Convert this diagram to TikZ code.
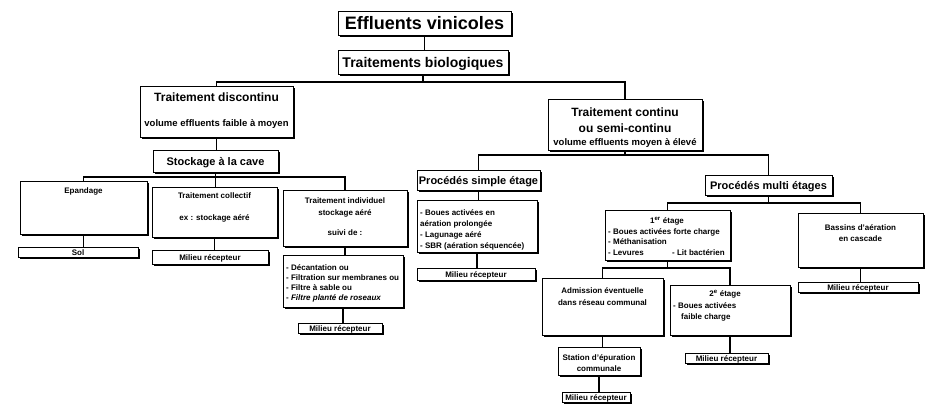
\documentclass[tikz,border=0pt]{standalone}
\usepackage{fontspec}
\setmainfont{Liberation Sans}
\usetikzlibrary{shadows}
\tikzset{
  boxst/.style={draw, line width=0.9pt, fill=white, inner sep=0pt, outer sep=0pt,
    drop shadow={shadow xshift=1.8pt, shadow yshift=-1.8pt, opacity=1, fill=black}},
  conn/.style={line width=1.2pt},
  txt/.style={inner sep=0pt, anchor=base},
  tA/.style={txt, font=\bfseries\fontsize{18}{20}\selectfont},
  tB/.style={txt, font=\bfseries\fontsize{14}{16}\selectfont},
  tC/.style={txt, font=\bfseries\fontsize{12}{14}\selectfont},
  tD/.style={txt, font=\bfseries\fontsize{11}{13}\selectfont},
  tE/.style={txt, font=\bfseries\fontsize{9.5}{11}\selectfont},
  tS/.style={txt, font=\bfseries\fontsize{8}{10}\selectfont},
  tL/.style={tS, anchor=base west},
}
\newcommand\mkbox[5]{%
  \pgfmathsetmacro\mbW{#4-#2}\pgfmathsetmacro\mbH{#5-#3}%
  \pgfmathsetmacro\mbX{(#2+#4)/2}\pgfmathsetmacro\mbY{(#3+#5)/2}%
  \node[boxst, minimum width=\mbW pt, minimum height=\mbH pt] (#1) at (\mbX,\mbY) {};}
\begin{document}
\begin{tikzpicture}[x=1pt, y=-1pt]
\fill[white] (0,0) rectangle (934,407);
\useasboundingbox (0,0) rectangle (934,407);

% boxes
\mkbox{eff}{338}{11}{511}{35}
\mkbox{trb}{338}{50}{508}{74}
\mkbox{tdc}{140}{86}{293}{137}
\mkbox{tcc}{548}{99}{702}{150}
\mkbox{stk}{153}{150}{278}{172}
\mkbox{epa}{20}{181}{147}{234}
\mkbox{tco}{152}{187}{277}{237}
\mkbox{tin}{283}{190}{407}{246}
\mkbox{sol}{18}{247}{138}{257}
\mkbox{mra}{152}{250}{268}{264}
\mkbox{lst}{283}{255}{403}{307}
\mkbox{mrb}{298}{323}{382}{333}
\mkbox{pse}{417}{170}{540}{190}
\mkbox{pmu}{705}{175}{832}{195}
\mkbox{lse}{417}{200}{537}{252}
\mkbox{mrc}{417}{268}{535}{280}
\mkbox{eun}{605}{210}{730}{260}
\mkbox{bas}{798}{213}{923}{267}
\mkbox{mrd}{798}{282}{918}{292}
\mkbox{adm}{542}{278}{663}{335}
\mkbox{edx}{670}{285}{790}{335}
\mkbox{sta}{558}{347}{640}{375}
\mkbox{mre}{562}{392}{630}{402}
\mkbox{mrf}{685}{353}{768}{363}

% connectors
\coordinate (ba) at (423,82);
\coordinate (bb) at (215.5,177);
\coordinate (bc) at (625,155);
\coordinate (bd) at (768.5,203);
\coordinate (be) at (667.5,268);
\draw[conn] (eff.south) -- (eff.south |- trb.north);
\draw[conn] (trb.south) -- (ba);
\draw[conn] (tdc.north) |- (ba) -| (tcc.north);
\draw[conn] (tdc.south) -- (tdc.south |- stk.north);
\draw[conn] (stk.south) -- (bb);
\draw[conn] (epa.north) |- (bb) -| (tin.north);
\draw[conn] (bb) -- (bb |- tco.north);
\draw[conn] (epa.south) -- (epa.south |- sol.north);
\draw[conn] (tco.south) -- (tco.south |- mra.north);
\draw[conn] (tin.south) -- (tin.south |- lst.north);
\draw[conn] (lst.south) -- (lst.south |- mrb.north);
\draw[conn] (tcc.south) -- (bc);
\draw[conn] (pse.north) |- (bc) -| (pmu.north);
\draw[conn] (pse.south) -- (pse.south |- lse.north);
\draw[conn] (lse.south) -- (lse.south |- mrc.north);
\draw[conn] (pmu.south) -- (bd);
\draw[conn] (eun.north) |- (bd) -| (bas.north);
\draw[conn] (bas.south) -- (bas.south |- mrd.north);
\draw[conn] (eun.south) -- (be);
\draw[conn] (adm.north) |- (be) -| (edx.north);
\draw[conn] (adm.south) -- (adm.south |- sta.north);
\draw[conn] (sta.south) -- (sta.south |- mre.north);
\draw[conn] (edx.south) -- (edx.south |- mrf.north);

% texts
\node[tA] (xeff) at (424.5,29.5) {Effluents vinicoles};
\node[tB] (xtrb) at (423,67) {Traitements biologiques};
\node[tC] (xtdca) at (216.5,101.3) {Traitement discontinu};
\node[tE] (xtdcb) at (216.5,126.4) {volume effluents faible à moyen};
\node[tD] (xstk) at (215.5,165) {Stockage à la cave};
\node[tC] (xtcca) at (625,116.3) {Traitement continu};
\node[tC] (xtccb) at (625,132.3) {ou semi-continu};
\node[tE] (xtccc) at (625,145.4) {volume effluents moyen à élevé};
\node[tD] (xpse) at (478.5,184) {Procédés simple étage};
\node[tD] (xpmu) at (768.5,189) {Procédés multi étages};
\node[tS] (xepa) at (83.5,193) {Epandage};
\node[tS] (xtcoa) at (214.5,198) {Traitement collectif};
\node[tS] (xtcob) at (214.5,220) {ex : stockage aéré};
\node[tS] (xtina) at (345,203) {Traitement individuel};
\node[tS] (xtinb) at (345,215) {stockage aéré};
\node[tS] (xtinc) at (345,235) {suivi de :};
\node[tS] (xsol) at (78,255) {Sol};
\node[tS] (xmra) at (210,260) {Milieu récepteur};
\node[tL] (xlsta) at (286,270) {- Décantation ou};
\node[tL] (xlstb) at (286,280) {- Filtration sur membranes ou};
\node[tL] (xlstc) at (286,290) {- Filtre à sable ou};
\node[tL] (xlstd) at (286,300) {- \textit{Filtre planté de roseaux}};
\node[tS] (xmrb) at (340,331) {Milieu récepteur};
\node[tL] (xlsea) at (420,215) {- Boues activées en};
\node[tL] (xlseb) at (420,226) {aération prolongée};
\node[tL] (xlsec) at (420,237) {- Lagunage aéré};
\node[tL] (xlsed) at (420,248) {- SBR (aération séquencée)};
\node[tS] (xmrc) at (476,277.5) {Milieu récepteur};
\node[tS] (xeuna) at (667,223) {1\textsuperscript{er} étage};
\node[tL] (xeunb) at (608,234) {- Boues activées forte charge};
\node[tL] (xeunc) at (608,244) {- Méthanisation};
\node[tL] (xeund) at (608,255) {- Levures};
\node[tL] (xeune) at (672,255) {- Lit bactérien};
\node[tS] (xbasa) at (860.5,230) {Bassins d'aération};
\node[tS] (xbasb) at (860.5,241) {en cascade};
\node[tS] (xmrd) at (858,290) {Milieu récepteur};
\node[tS] (xadma) at (602.5,293) {Admission éventuelle};
\node[tS] (xadmb) at (602.5,305) {dans réseau communal};
\node[tS] (xedxa) at (725,296) {2\textsuperscript{e} étage};
\node[tL] (xedxb) at (673,308) {- Boues activées};
\node[tL] (xedxc) at (681,319) {faible charge};
\node[tS] (xstaa) at (599,360) {Station d'épuration};
\node[tS] (xstab) at (599,371) {communale};
\node[tS] (xmre) at (596,400) {Milieu récepteur};
\node[tS] (xmrf) at (726.5,361) {Milieu récepteur};
\end{tikzpicture}
\end{document}
